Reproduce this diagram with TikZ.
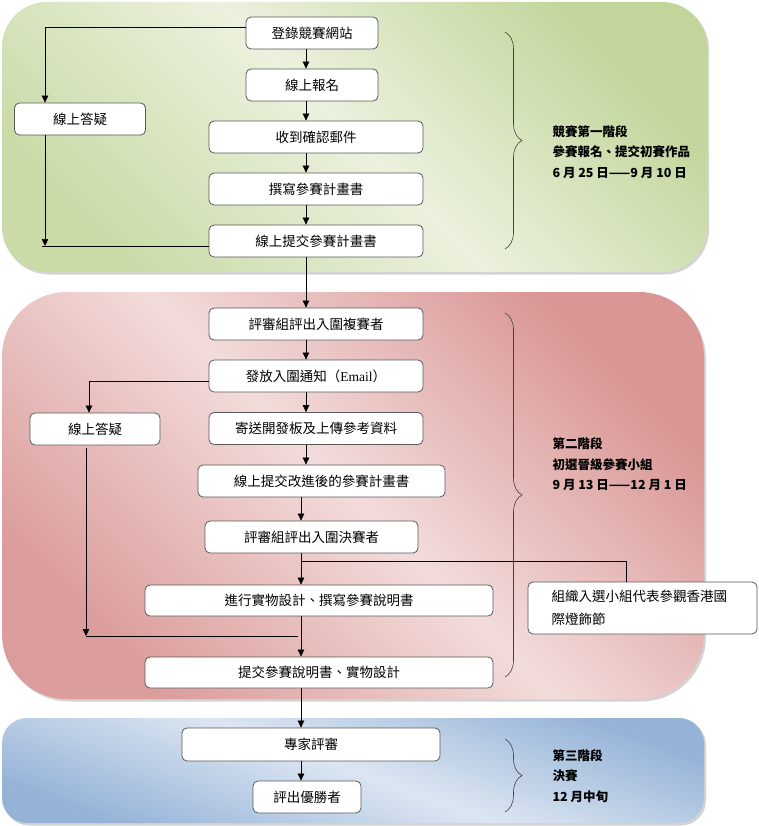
\documentclass[tikz,border=0pt]{standalone}
\usepackage{fontspec}
\setmainfont{Liberation Serif}
\newfontfamily\cjk{Noto Sans CJK TC}
\usetikzlibrary{arrows.meta,decorations.pathreplacing,shadows}

\begin{document}
\begin{tikzpicture}[x=1pt,y=-1pt,
  stepbox/.style={draw=black!65,line width=0.8pt,rounded corners=5,fill=white,minimum height=32,inner sep=0,font=\cjk\fontsize{13.5}{16}\selectfont},
  arr/.style={line width=0.7pt,-{Triangle[length=7pt,width=6.5pt]}},
  link/.style={line width=0.7pt},
  stage/.style={drop shadow={shadow xshift=2pt,shadow yshift=-2.5pt,opacity=0.35}},
  phasebrace/.style={decorate,decoration={brace,amplitude=17pt},draw=black!75,line width=0.6pt},
  phasetext/.style={anchor=west,align=left,font=\cjk\bfseries\fontsize{12.5}{20.5}\selectfont}]
\definecolor{leafdark}{HTML}{C2D69B}
\definecolor{leaflight}{HTML}{EBF1DE}
\definecolor{rosedark}{HTML}{D99694}
\definecolor{roselight}{HTML}{F2DCDB}
\definecolor{skydark}{HTML}{95B3D7}
\definecolor{skylight}{HTML}{DCE6F2}
\useasboundingbox (0,0) rectangle (758,826);

\path[stage,top color=leafdark,bottom color=leafdark!80!leaflight,middle color=leaflight,shading angle=-45,rounded corners=45] (2,2) rectangle (707,272);
\path[stage,top color=rosedark,bottom color=rosedark!90!roselight,middle color=roselight,shading angle=-45,rounded corners=65] (2,292) rectangle (704,699);
\path[stage,top color=skydark,bottom color=skydark,middle color=skylight,shading angle=-20,rounded corners=25] (2,718) rectangle (704,823);

\node[stepbox,minimum width=132] (s1reg) at (312,33) {登錄競賽網站};
\node[stepbox,minimum width=132] (s1sign) at (312,85) {線上報名};
\node[stepbox,minimum width=214] (s1mail) at (316,137) {收到確認郵件};
\node[stepbox,minimum width=214] (s1plan) at (316,189) {撰寫參賽計畫書};
\node[stepbox,minimum width=214] (s1submit) at (316,241) {線上提交參賽計畫書};
\node[stepbox,minimum width=131] (s1qa) at (80,119) {線上答疑};

\node[stepbox,minimum width=214] (s2pick) at (316,324) {評審組評出入圍複賽者};
\node[stepbox,minimum width=214] (s2notify) at (316,376) {發放入圍通知（{\rmfamily Email}）};
\node[stepbox,minimum width=214] (s2send) at (316,428.5) {寄送開發板及上傳參考資料};
\node[stepbox,minimum width=247] (s2resub) at (321.5,481) {線上提交改進後的參賽計畫書};
\node[stepbox,minimum width=213] (s2final) at (311.5,537) {評審組評出入圍決賽者};
\node[stepbox,minimum width=348,minimum height=31] (s2make) at (319,600.5) {進行實物設計、撰寫參賽說明書};
\node[stepbox,minimum width=348,minimum height=31] (s2hand) at (319,672.5) {提交參賽說明書、實物設計};
\node[stepbox,minimum width=130] (s2qa) at (95,429) {線上答疑};
\node[stepbox,minimum width=229,minimum height=52,text width=182,align=left,font=\cjk\fontsize{13.5}{23}\selectfont] (s2visit) at (642.5,608) {組織入選小組代表參觀香港國\\際燈飾節};

\node[stepbox,minimum width=258,minimum height=33] (s3expert) at (311,744.5) {專家評審};
\node[stepbox,minimum width=108] (s3win) at (307,797) {評出優勝者};

\coordinate (spineA) at (306,0);
\coordinate (spineB) at (301,0);
\foreach \from/\to in {s1reg/s1sign,s1sign/s1mail,s1mail/s1plan,s1plan/s1submit,s1submit/s2pick,s2pick/s2notify,s2notify/s2send,s2send/s2resub}
  \draw[arr] (\from.south -| spineA) -- (\to.north -| spineA);
\foreach \from/\to in {s2resub/s2final,s2final/s2make,s2make/s2hand,s2hand/s3expert,s3expert/s3win}
  \draw[arr] (\from.south -| spineB) -- (\to.north -| spineB);

\coordinate (s1join) at (45,246);
\draw[arr] ([yshift=6]s1reg.west) -| ([xshift=-35]s1qa.north);
\draw[arr] ([xshift=-35]s1qa.south) -- (s1join);
\draw[link] ([yshift=-5]s1submit.west) -- ([xshift=-3]s1join);

\coordinate (s2join) at (86,636);
\coordinate (s2joinend) at (298,636);
\coordinate (s2branch) at (301,561);
\draw[arr] ([yshift=-5]s2notify.west) -| ([xshift=-6]s2qa.north);
\draw[arr] ([xshift=-9,yshift=-3]s2qa.south) -- (s2join);
\draw[link] (s2join) -- (s2joinend);
\draw[link] ([xshift=-16.5]s2visit.north) |- (s2branch);

\draw[phasebrace] (505,32) -- (505,249);
\draw[phasebrace] (505,313) -- (505,677);
\draw[phasebrace] (505,739) -- (505,812);
\node[phasetext] (s1note) at (549,152) {競賽第一階段\\參賽報名、提交初賽作品\\6 月 25 日——9 月 10 日};
\node[phasetext] (s2note) at (549,464.5) {第二階段\\初選晉級參賽小組\\9 月 13 日——12 月 1 日};
\node[phasetext] (s3note) at (549,776) {第三階段\\決賽\\12 月中旬};
\end{tikzpicture}
\end{document}
